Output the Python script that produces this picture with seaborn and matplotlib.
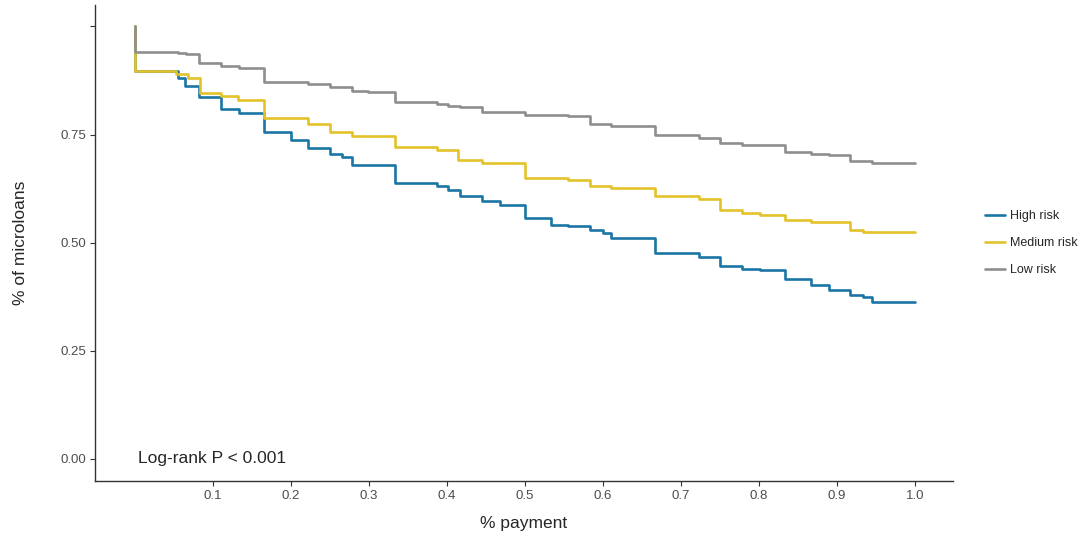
import pandas as pd
import matplotlib.pyplot as plt
import seaborn as sns

sns.set_style("white")
plt.rcParams['font.family'] = ['Liberation Sans', 'DejaVu Sans']

# Step points (x = % payment, y = % of microloans)
high_x = [0, 0, 0.055, 0.065, 0.082, 0.110, 0.133, 0.166, 0.200, 0.222, 0.250, 0.266, 0.278,
          0.333, 0.388, 0.401, 0.417, 0.445, 0.468, 0.500, 0.533, 0.555, 0.583, 0.600, 0.611,
          0.667, 0.723, 0.750, 0.778, 0.801, 0.833, 0.867, 0.890, 0.917, 0.933, 0.945, 1.0]
high_y = [1.0, 0.898, 0.880, 0.862, 0.836, 0.810, 0.800, 0.755, 0.737, 0.718, 0.704, 0.697, 0.679,
          0.637, 0.630, 0.621, 0.609, 0.596, 0.588, 0.558, 0.542, 0.538, 0.530, 0.523, 0.512,
          0.477, 0.466, 0.445, 0.440, 0.437, 0.417, 0.403, 0.391, 0.380, 0.375, 0.364, 0.364]

med_x = [0, 0, 0.053, 0.068, 0.084, 0.110, 0.132, 0.166, 0.222, 0.250, 0.278, 0.333, 0.388,
         0.415, 0.445, 0.500, 0.555, 0.583, 0.611, 0.667, 0.723, 0.750, 0.778, 0.801, 0.833,
         0.867, 0.917, 0.933, 1.0]
med_y = [1.0, 0.898, 0.889, 0.880, 0.846, 0.839, 0.829, 0.789, 0.775, 0.755, 0.746, 0.721, 0.715,
         0.692, 0.685, 0.650, 0.644, 0.632, 0.627, 0.607, 0.601, 0.576, 0.569, 0.565, 0.553,
         0.549, 0.530, 0.525, 0.525]

low_x = [0, 0, 0.055, 0.066, 0.083, 0.110, 0.134, 0.166, 0.222, 0.250, 0.278, 0.299, 0.333,
         0.388, 0.401, 0.417, 0.445, 0.500, 0.533, 0.555, 0.583, 0.611, 0.667, 0.723, 0.750,
         0.778, 0.801, 0.833, 0.867, 0.890, 0.917, 0.945, 1.0]
low_y = [1.0, 0.941, 0.939, 0.937, 0.916, 0.908, 0.904, 0.872, 0.867, 0.860, 0.851, 0.848, 0.825,
         0.821, 0.817, 0.813, 0.802, 0.796, 0.795, 0.792, 0.775, 0.769, 0.748, 0.742, 0.731,
         0.727, 0.725, 0.710, 0.705, 0.702, 0.690, 0.684, 0.684]

groups = ["High risk", "Medium risk", "Low risk"]
colors = ["#1B75A5", "#E3C22A", "#8E8E8E"]

df = pd.concat([
    pd.DataFrame({"payment": high_x, "surv": high_y, "group": groups[0]}),
    pd.DataFrame({"payment": med_x, "surv": med_y, "group": groups[1]}),
    pd.DataFrame({"payment": low_x, "surv": low_y, "group": groups[2]}),
], ignore_index=True)

fig = plt.figure(figsize=(10.89, 5.38), dpi=100)
ax = fig.add_axes([0.0872, 0.106, 0.788, 0.885])

sns.lineplot(data=df, x="payment", y="surv", hue="group", hue_order=groups,
             palette=colors, estimator=None, sort=False, drawstyle="steps-post",
             linewidth=1.9, ax=ax)

ax.set_xlim(-0.051, 1.049)
ax.set_ylim(-0.051, 1.05)
ax.set_xticks([0.1, 0.2, 0.3, 0.4, 0.5, 0.6, 0.7, 0.8, 0.9, 1.0])
ax.set_xticklabels(["0.1", "0.2", "0.3", "0.4", "0.5", "0.6", "0.7", "0.8", "0.9", "1.0"])
ax.set_yticks([0, 0.25, 0.5, 0.75, 1.0])
ax.set_yticklabels(["0.00", "0.25", "0.50", "0.75", ""])
ax.tick_params(axis="both", length=3.5, width=0.8, color="#333333",
               labelcolor="#4D4D4D", labelsize=9.5, pad=3, left=True, bottom=True)

sns.despine(ax=ax)
for s in ["left", "bottom"]:
    ax.spines[s].set_color("#333333")
    ax.spines[s].set_linewidth(1.0)

ax.set_xlabel("% payment", fontsize=12.5, labelpad=10)
ax.set_ylabel("% of microloans", fontsize=12.5, labelpad=23)

ax.text(0.004, 0.0, "Log-rank P < 0.001", fontsize=12.5, va="center", ha="left")

leg = ax.legend(loc="center left", bbox_to_anchor=(1.037, 0.5), frameon=False,
                fontsize=9, handlelength=1.6, handletextpad=0.45, labelspacing=1.2,
                borderpad=0, borderaxespad=0, title=None)

plt.savefig("out.png", dpi=100)
